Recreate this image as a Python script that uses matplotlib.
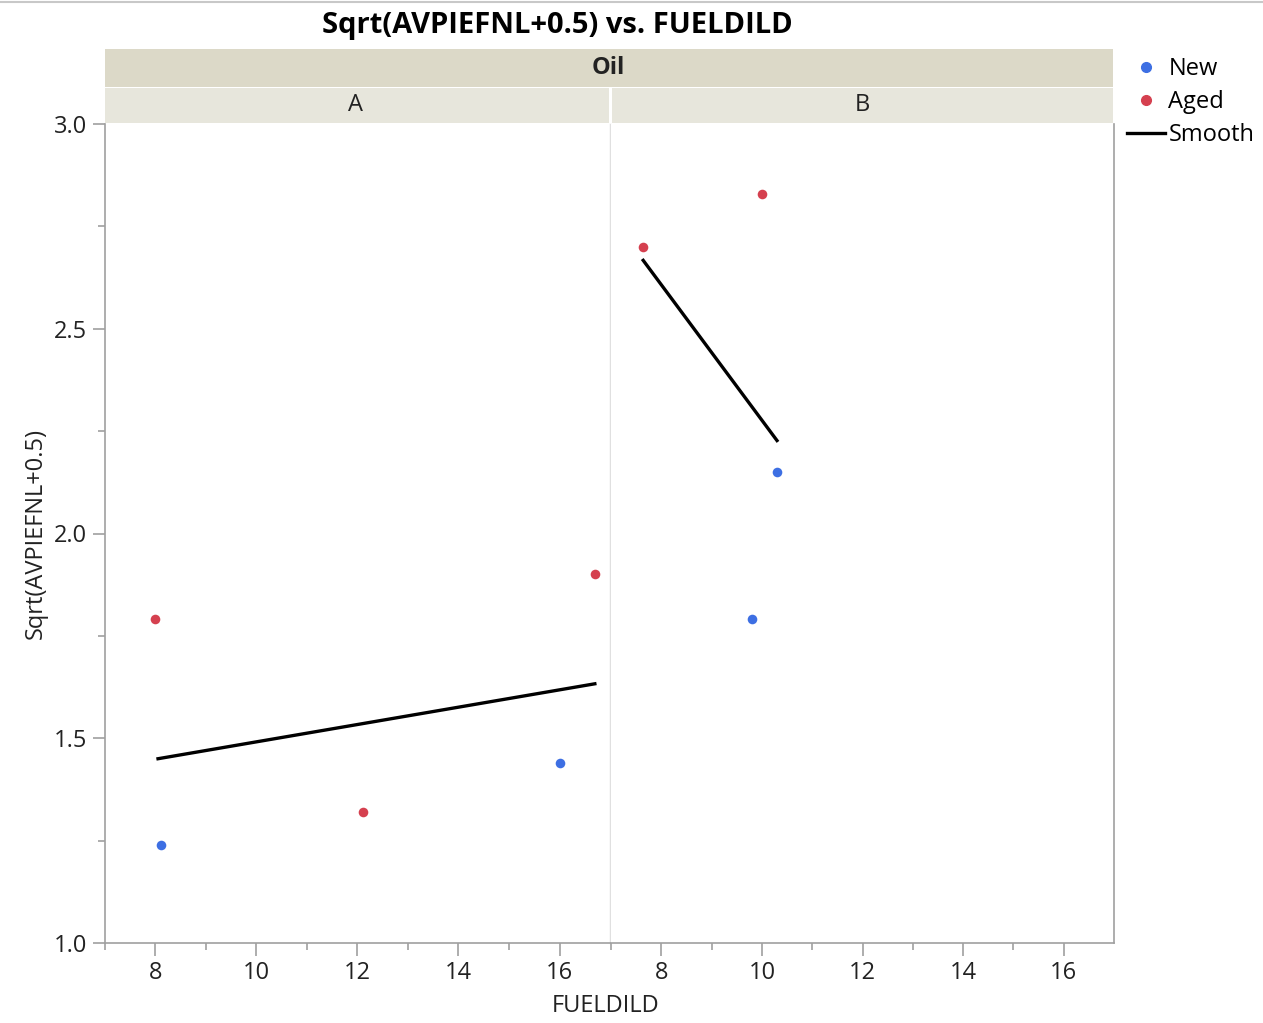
import matplotlib.pyplot as plt
from matplotlib.lines import Line2D
from matplotlib.patches import Rectangle

plt.rcParams['font.family'] = ['Open Sans', 'DejaVu Sans']

# data
a_new_x = [8.1, 16.0]
a_new_y = [1.24, 1.44]
a_aged_x = [8.0, 12.1, 16.7]
a_aged_y = [1.79, 1.32, 1.90]
a_smooth_x = [8.05, 16.7]
a_smooth_y = [1.45, 1.633]

b_new_x = [9.8, 10.3]
b_new_y = [1.79, 2.15]
b_aged_x = [7.64, 10.0]
b_aged_y = [2.70, 2.83]
b_smooth_x = [7.64, 10.3]
b_smooth_y = [2.667, 2.227]

blue = '#3d6fe3'
red = '#d5404f'
spine = '#a0a0a0'

fig = plt.figure(figsize=(12.63, 10.23), dpi=100)
W, H = 1263, 1023
bot = 1 - 943 / H
top = 1 - 124 / H
axA = fig.add_axes([105 / W, bot, 505 / W, top - bot])
axB = fig.add_axes([611 / W, bot, 503 / W, top - bot], sharey=axA)

panels = [
    (axA, a_new_x, a_new_y, a_aged_x, a_aged_y, a_smooth_x, a_smooth_y),
    (axB, b_new_x, b_new_y, b_aged_x, b_aged_y, b_smooth_x, b_smooth_y),
]
for ax, nx, ny, ax_, ay, sx, sy in panels:
    ax.plot(sx, sy, color='black', lw=2.4, zorder=2)
    ax.scatter(nx, ny, s=48, color=blue, zorder=3, linewidths=0)
    ax.scatter(ax_, ay, s=48, color=red, zorder=3, linewidths=0)
    ax.set_xlim(7, 17)
    ax.set_ylim(1.0, 3.0)
    ax.set_xticks([8, 10, 12, 14, 16])
    ax.set_xticks([7, 9, 11, 13, 15], minor=True)
    ax.tick_params(axis='both', which='major', length=9, width=1.2, color=spine,
                   labelsize=17, labelcolor='#222222', pad=4)
    ax.tick_params(axis='both', which='minor', length=5, width=1.2, color=spine)
    for s in ax.spines.values():
        s.set_color(spine)
        s.set_linewidth(1.2)
    ax.spines['top'].set_visible(False)

axA.set_yticks([1.0, 1.5, 2.0, 2.5, 3.0])
axA.set_yticks([1.25, 1.75, 2.25, 2.75], minor=True)
axA.set_yticklabels(['1.0', '1.5', '2.0', '2.5', '3.0'])
axA.spines['right'].set_color('#e0e0e0')
axA.spines['right'].set_linewidth(1.0)
axB.spines['left'].set_visible(False)
axB.tick_params(axis='y', which='both', left=False, labelleft=False)

axA.set_ylabel('Sqrt(AVPIEFNL+0.5)', fontsize=17, color='#222222', labelpad=4)
fig.text(606 / W, 1 - 1006 / H, 'FUELDILD', ha='center', va='center', fontsize=17, color='#222222')

# strips
fig.add_artist(Rectangle((105 / W, 1 - 87 / H), 1008 / W, 38 / H, transform=fig.transFigure,
                         facecolor='#dcd9c8', edgecolor='none'))
fig.add_artist(Rectangle((105 / W, 1 - 123 / H), 504 / W, 35 / H, transform=fig.transFigure,
                         facecolor='#e7e6dc', edgecolor='none'))
fig.add_artist(Rectangle((612 / W, 1 - 123 / H), 501 / W, 35 / H, transform=fig.transFigure,
                         facecolor='#e7e6dc', edgecolor='none'))
fig.text(608 / W, 1 - 68 / H, 'Oil', ha='center', va='center', fontsize=17, fontweight='bold', color='#222222')
fig.text(356 / W, 1 - 105 / H, 'A', ha='center', va='center', fontsize=17, color='#222222')
fig.text(862 / W, 1 - 105 / H, 'B', ha='center', va='center', fontsize=17, color='#222222')

fig.text(557 / W, 1 - 25 / H, 'Sqrt(AVPIEFNL+0.5) vs. FUELDILD', ha='center', va='center',
         fontsize=21, fontweight='bold', color='black')

fig.add_artist(Line2D([0, 1], [1 - 1.5 / H, 1 - 1.5 / H], transform=fig.transFigure, color='#c8c8c8', lw=1.5))

handles = [
    Line2D([], [], marker='o', ls='none', color=blue, markersize=7),
    Line2D([], [], marker='o', ls='none', color=red, markersize=7),
    Line2D([], [], color='black', lw=2.4),
]
fig.legend(handles, ['New', 'Aged', 'Smooth'], loc='upper left', bbox_to_anchor=(1127 / W, 1 - 57 / H),
           frameon=False, fontsize=17, handlelength=1.6, handletextpad=0.15, labelspacing=0.38,
           borderaxespad=0, borderpad=0)

fig.savefig('out.png', dpi=100)
